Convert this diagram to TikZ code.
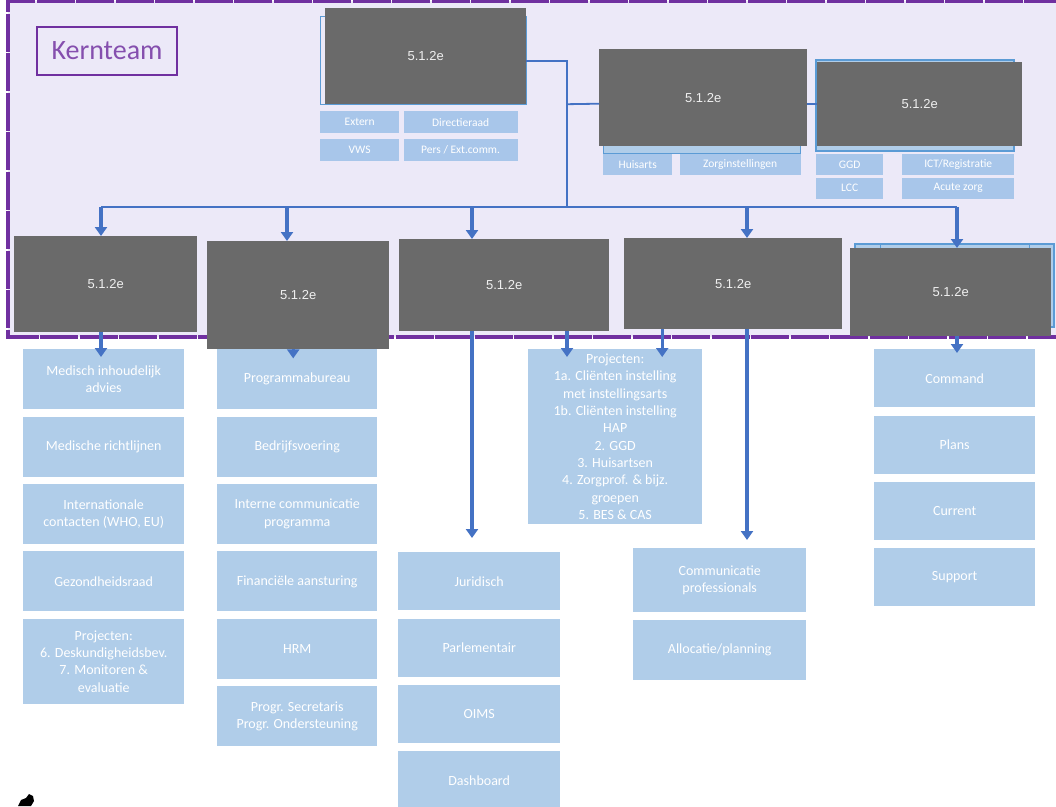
\documentclass[tikz,border=0pt]{standalone}
\usepackage{fontspec}
\setmainfont{Carlito}
\newfontfamily\arialfont{Liberation Sans}
\usetikzlibrary{positioning,arrows.meta}
\definecolor{paars}{HTML}{7030A0}
\definecolor{kernbg}{HTML}{ECE9F8}
\definecolor{grijs}{HTML}{6A6A6A}
\definecolor{lblauw}{HTML}{B0CDE9}
\definecolor{hblauw}{HTML}{A8C6EA}
\definecolor{blauw}{HTML}{4472C4}
\definecolor{rand}{HTML}{5B9BD5}
\tikzset{geheim/.style={rectangle,fill=grijs,text=white!94!black,inner sep=0pt,
           font=\arialfont\fontsize{13}{15}\selectfont,anchor=north west},
	 team/.style={rectangle,fill=lblauw,text=white,align=center,inner sep=0pt,
	   minimum width=161pt,minimum height=60pt,font=\fontsize{14}{17.3}\selectfont},
	 klein/.style={rectangle,fill=hblauw,text=white,inner sep=0pt,
	   minimum height=22pt,font=\fontsize{11.5}{13}\selectfont},
	 lijn/.style={draw=blauw,line width=1.8pt},
	 pijl/.style={draw=blauw,line width=3.2pt,-{Triangle[width=12pt,length=9pt]}},
	 node distance = 7pt
	 }

\begin{document}
\begin{tikzpicture}[x=1pt,y=-1pt] % crisisorganisatie
	\useasboundingbox (0,0) rectangle (1056,806);
	\clip (0,0) rectangle (1056,806);
	% kernteam vlak
	\fill[kernbg] (8,1) rectangle (1062,337);
	\draw[paars,line width=3.8pt,dash pattern=on 38pt off 1.5pt] (1062,1) -- (8,1) -- (8,337) -- (1062,337);
	\node[draw=paars,line width=2pt,text=paars!85!white,font=\fontsize{28}{30}\selectfont,
	  minimum width=140pt,minimum height=48pt,anchor=north west] (kt) at (36,26) {Kernteam};
	% randen achter de blokken
	\draw[rand,line width=1pt] (320,16) rectangle (526,104);
	\filldraw[draw=rand,fill=lblauw,line width=1pt] (603,138) rectangle (800,153);
	\filldraw[draw=rand,fill=lblauw,line width=1.2pt] (816,60) rectangle (1014,151);
	\filldraw[draw=rand,fill=lblauw,line width=1.2pt] (855,244) rectangle (1054,327);
	\draw[rand,line width=1pt] (880,244) -- (880,250) (1029,244) -- (1029,250);
	% bovenste blokken
	\node[geheim,minimum width=201pt,minimum height=96pt] (k1) at (325,8) {5.1.2e};
	\node[geheim,minimum width=208pt,minimum height=97pt] (k2) at (599,49) {5.1.2e};
	\node[geheim,minimum width=205pt,minimum height=84pt] (k3) at (817,62) {5.1.2e};
	\node[klein,minimum width=79pt,anchor=north west] (ex) at (320,111) {Extern};
	\node[klein,minimum width=114pt] (dr) [right=4pt of ex] {Directieraad};
	\node[klein,minimum width=79pt] (vws) [below=5pt of ex] {VWS};
	\node[klein,minimum width=114pt] (pe) [below=5pt of dr] {Pers / Ext.comm.};
	\node[klein,minimum width=69pt,minimum height=21pt,anchor=north west] (ha) at (603,154) {Huisarts};
	\node[klein,minimum width=121pt,minimum height=21pt] (zi) [right=7pt of ha] {Zorginstellingen};
	\node[klein,minimum width=67pt,minimum height=21pt,anchor=north west] (ggd) at (816,154) {GGD};
	\node[klein,minimum width=112pt,minimum height=21pt,anchor=north west] (ict) at (902,154) {ICT/Registratie};
	\node[klein,minimum width=67pt,minimum height=21pt] (lcc) [below=2pt of ggd] {LCC};
	\node[klein,minimum width=112pt,minimum height=21pt] (az) [below=2pt of ict] {Acute zorg};
	% tweede rij
	\node[geheim,minimum width=183pt,minimum height=96pt] (a1) at (14,236) {5.1.2e};
	\node[geheim,minimum width=182pt,minimum height=108pt] (a2) at (207,241) {5.1.2e};
	\node[geheim,minimum width=210pt,minimum height=92pt] (a3) at (399,239) {5.1.2e};
	\node[geheim,minimum width=218pt,minimum height=91pt] (a4) at (624,238) {5.1.2e};
	\node[geheim,minimum width=201pt,minimum height=88pt] (a5) at (850,248) {5.1.2e};
	% kolom 1
	\node[team,anchor=north west] (m1) at (23,349) {Medisch inhoudelijk\\advies};
	\node[team] (m2) [below=of m1] {Medische richtlijnen};
	\node[team] (m3) [below=of m2] {Internationale\\contacten (WHO, EU)};
	\node[team] (m4) [below=of m3] {Gezondheidsraad};
	\node[team,minimum height=85pt] (m5) [below=of m4] {Projecten:\\6. Deskundigheidsbev.\\7. Monitoren \&\\evaluatie};
	% kolom 2
	\node[team,minimum width=160pt,anchor=north west] (p1) at (217,349) {Programmabureau};
	\node[team,minimum width=160pt] (p2) [below=of p1] {Bedrijfsvoering};
	\node[team,minimum width=160pt] (p3) [below=of p2] {Interne communicatie\\programma};
	\node[team,minimum width=160pt] (p4) [below=of p3] {Financiële aansturing};
	\node[team,minimum width=160pt] (p5) [below=of p4] {HRM};
	\node[team,minimum width=160pt] (p6) [below=of p5] {Progr. Secretaris\\Progr. Ondersteuning};
	% kolom 3
	\node[team,minimum width=162pt,minimum height=58pt,anchor=north west] (jur) at (398,552) {Juridisch};
	\node[team,minimum width=162pt,minimum height=58pt] (par) [below=8pt of jur] {Parlementair};
	\node[team,minimum width=162pt,minimum height=58pt] (oims) [below=8pt of par] {OIMS};
	\node[team,minimum width=162pt,minimum height=58pt] (dash) [below=8pt of oims] {Dashboard};
	\node[team,minimum width=174pt,minimum height=175pt,anchor=north west] (proj) at (528,349)
	  {Projecten:\\1a. Cliënten instelling\\met instellingsarts\\1b. Cliënten instelling\\HAP\\2. GGD\\3. Huisartsen\\4. Zorgprof. \& bijz.\\groepen\\5. BES \& CAS};
	% kolom 4
	\node[team,minimum width=173pt,minimum height=64pt,anchor=north west] (cp) at (633,548) {Communicatie\\professionals};
	\node[team,minimum width=173pt] (al) [below=of cp] {Allocatie/planning};
	% kolom 5
	\node[team,minimum height=58pt,anchor=north west] (cmd) at (874,349) {Command};
	\node[team,minimum height=58pt] (pl) [below=8pt of cmd] {Plans};
	\node[team,minimum height=58pt] (cu) [below=8pt of pl] {Current};
	\node[team,minimum height=58pt] (su) [below=8pt of cu] {Support};
	% verbindingen
	\coordinate (jn) at (567,207);
	\coordinate (b1) at (101,207);
	\coordinate (b2) at (287,207);
	\coordinate (b3) at (472,207);
	\coordinate (b4) at (747,207);
	\coordinate (b5) at (957,207);
	\draw[lijn] ([yshift=-5pt]k1.east) -| (jn);
	\draw[lijn] (jn |- k3.west) -- ([yshift=-6pt]k2.west);
	\draw[lijn] (k2.east |- k3.west) -- (k3.west);
	\draw[lijn] (b1) -- (b5);
	\foreach \b/\a in {b1/a1,b2/a2,b3/a3,b4/a4,b5/a5}
	  \draw[pijl] (\b) -- (\b |- \a.north);
	\draw[pijl,shorten >=-8pt] (b1 |- a1.south) -- (b1 |- m1.north);
	\draw[pijl] ([xshift=-5pt]a2.south) -- ++(0,9);
	\draw[pijl,shorten >=14pt] (b3 |- a3.south) -- (b3 |- jur.north);
	\draw[pijl,shorten >=-8pt] (jn |- a3.south) -- (jn |- proj.north);
	\draw[pijl,shorten >=-8pt] ([xshift=-71pt]a4.south) -- ([xshift=-71pt]a4.south |- proj.north);
	\draw[pijl,shorten >=8pt] (b4 |- a4.south) -- (b4 |- cp.north);
	\draw[pijl,shorten >=-4pt] (b5 |- a5.south) -- (b5 |- cmd.north);
	% vlekje linksonder
	\fill[black] (18,806) -- (21,800) -- (26,798) -- (29,794) -- (33,796) -- (34,801) -- (31,806) -- cycle;
\end{tikzpicture}
\end{document}
